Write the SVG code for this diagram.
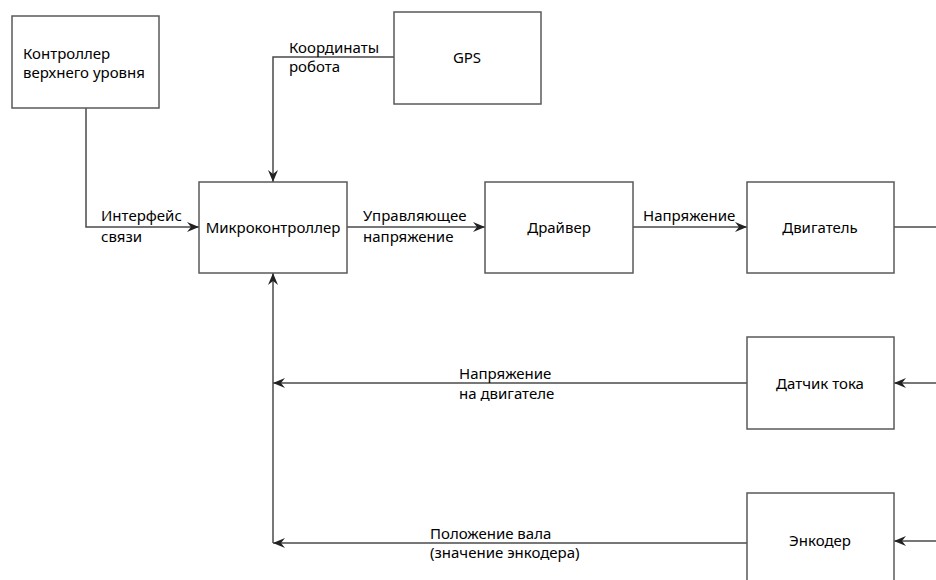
<svg xmlns="http://www.w3.org/2000/svg" width="936" height="580" viewBox="0 0 936 580">
<style>
.box{fill:#fff;stroke:#5a5a5a;stroke-width:1.5}
.ln{fill:none;stroke:#4a4a4a;stroke-width:1.5}
text{font-family:"Noto Sans","Liberation Sans",sans-serif;font-size:15px;fill:#000}
.c{text-anchor:middle}
</style>
<defs>
<marker id="ah" viewBox="0 0 12 10" refX="12" refY="5" markerWidth="12" markerHeight="10" markerUnits="userSpaceOnUse" orient="auto">
<path d="M0,0 L12,5 L0,10 L4,5 z" fill="#222"/>
</marker>
</defs>
<rect width="936" height="580" fill="#fff"/>
<g id="connectors">
<path class="ln" d="M86,108 V227 H199" marker-end="url(#ah)"/>
<path class="ln" d="M394,57 H273 V182" marker-end="url(#ah)"/>
<path class="ln" d="M347,227 H485" marker-end="url(#ah)"/>
<path class="ln" d="M633,227 H747" marker-end="url(#ah)"/>
<path class="ln" d="M894,227 H936"/>
<path class="ln" d="M936,383 H894" marker-end="url(#ah)"/>
<path class="ln" d="M747,383 H273" marker-end="url(#ah)"/>
<path class="ln" d="M936,541 H894" marker-end="url(#ah)"/>
<path class="ln" d="M747,543 H273" marker-end="url(#ah)"/>
<path class="ln" d="M273,543 V273" marker-end="url(#ah)"/>
<text x="101" y="221">Интерфейс</text>
<text x="101" y="242">связи</text>
<text x="289" y="53">Координаты</text>
<text x="289" y="72">робота</text>
<text x="363" y="221">Управляющее</text>
<text x="363" y="242">напряжение</text>
<text x="643" y="221">Напряжение</text>
<text x="459" y="379">Напряжение</text>
<text x="459" y="399">на двигателе</text>
<text x="430" y="539">Положение вала</text>
<text x="430" y="558">(значение энкодера)</text>
</g>
<g id="upper-controller">
<rect class="box" x="12" y="16" width="147" height="92"/>
<text x="23" y="59">Контроллер</text>
<text x="23" y="78">верхнего уровня</text>
</g>
<g id="gps">
<rect class="box" x="394" y="12" width="147" height="92"/>
<text class="c" x="467" y="63">GPS</text>
</g>
<g id="microcontroller">
<rect class="box" x="199" y="182" width="148" height="91"/>
<text class="c" x="273" y="233">Микроконтроллер</text>
</g>
<g id="driver">
<rect class="box" x="485" y="182" width="148" height="91"/>
<text class="c" x="559" y="233">Драйвер</text>
</g>
<g id="motor">
<rect class="box" x="747" y="182" width="147" height="91"/>
<text class="c" x="820" y="233">Двигатель</text>
</g>
<g id="current-sensor">
<rect class="box" x="747" y="337" width="147" height="92"/>
<text class="c" x="820" y="389">Датчик тока</text>
</g>
<g id="encoder">
<rect class="box" x="747" y="493" width="147" height="95"/>
<text class="c" x="820" y="546">Энкодер</text>
</g>
</svg>
